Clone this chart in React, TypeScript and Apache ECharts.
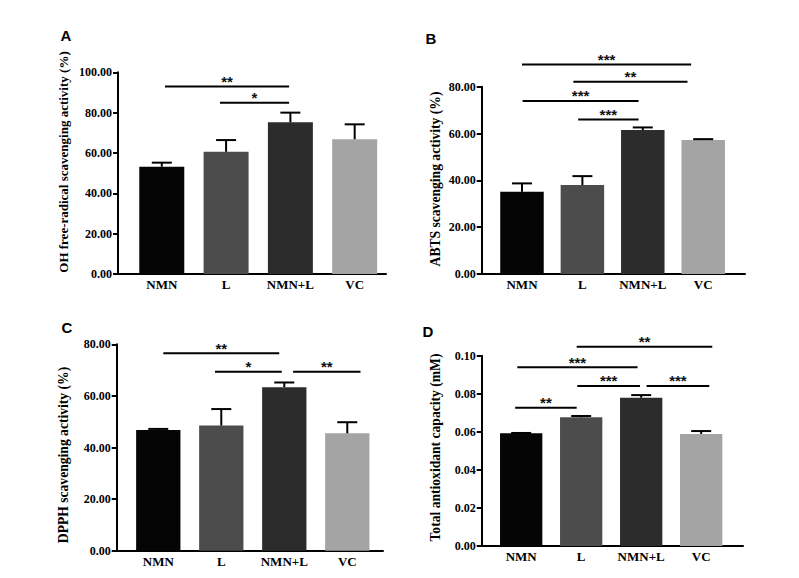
import React, { useEffect, useRef } from "react";
import * as echarts from "echarts";

const categories = ["NMN", "L", "NMN+L", "VC"];
const barColors = ["#050505", "#4c4c4c", "#2c2c2c", "#a4a4a4"];

// Panel A: OH free-radical scavenging activity (%)
const ohMean = [53.2, 60.6, 75.2, 66.8];
const ohErr = [2.0, 5.8, 4.8, 7.4];
// Panel B: ABTS scavenging activity (%)
const abtsMean = [35.1, 38.0, 61.5, 57.2];
const abtsErr = [3.6, 3.8, 1.1, 0.4];
// Panel C: DPPH scavenging activity (%)
const dpphMean = [46.8, 48.5, 63.4, 45.5];
const dpphErr = [0.4, 6.4, 1.8, 4.3];
// Panel D: Total antioxidant capacity (mM)
const taocMean = [0.0592, 0.0676, 0.0779, 0.0589];
const taocErr = [0.0002, 0.0007, 0.0014, 0.0015];

// significance brackets: [from (category pos), to (category pos), height, label]
const sigA: [number, number, number, string][] = [
  [0.05, 1.98, 92.9, "**"],
  [0.905, 1.98, 84.9, "*"],
];
const sigB: [number, number, number, string][] = [
  [0.0, 2.8, 89.5, "***"],
  [0.85, 2.74, 82.1, "**"],
  [0.01, 1.93, 73.9, "***"],
  [0.93, 1.93, 66.0, "***"],
];
const sigC: [number, number, number, string][] = [
  [0.08, 1.92, 76.5, "**"],
  [0.9, 1.96, 69.4, "*"],
  [2.14, 3.21, 69.4, "**"],
];
const sigD: [number, number, number, string][] = [
  [0.925, 3.185, 0.1047, "**"],
  [-0.065, 1.94, 0.0939, "***"],
  [0.935, 1.98, 0.0841, "***"],
  [2.09, 3.135, 0.0841, "***"],
  [-0.1, 0.925, 0.0727, "**"],
];

const yTitles = [
  "OH free-radical scavenging activity (%)",
  "ABTS scavenging activity (%)",
  "DPPH scavenging activity (%)",
  "Total antioxidant capacity (mM)",
];
const panelLetters = ["A", "B", "C", "D"];
const yMaxes = [100, 80, 80, 0.1];
const yIntervals = [20, 20, 20, 0.02];

const SERIF = '"Liberation Serif", "Times New Roman", serif';
const SANS = '"Liberation Sans", Arial, sans-serif';

export default function App() {
  const ref = useRef<HTMLDivElement>(null);
  useEffect(() => {
    if (!ref.current) return;
    const chart = echarts.init(ref.current, null, { renderer: "svg" });

    const grids = [
      { left: 118, top: 72.3, width: 268, height: 201.7 },
      { left: 481.7, top: 86.7, width: 263.3, height: 187.3 },
      { left: 116.7, top: 344.3, width: 266.3, height: 206.4 },
      { left: 481.7, top: 355.7, width: 261.3, height: 190.3 },
    ];
    const xRanges = [
      [-0.681, 3.487],
      [-0.667, 3.692],
      [-0.66, 3.567],
      [-0.658, 3.697],
    ];
    const barWidths = [45, 43.5, 44.3, 42.3];
    const titlePos = [
      [63, 162],
      [435, 179],
      [63, 455],
      [435.5, 447.5],
    ];
    const titleSizes = [13, 13.6, 13.6, 13.6];
    const letterPos = [
      [66, 35.5],
      [431, 38],
      [67, 327],
      [428, 331],
    ];

    const means = [ohMean, abtsMean, dpphMean, taocMean];
    const errs = [ohErr, abtsErr, dpphErr, taocErr];
    const sigs = [sigA, sigB, sigC, sigD];

    const series: any[] = [];
    for (let p = 0; p < 4; p++) {
      const m = means[p];
      const e = errs[p];
      series.push({
        type: "bar",
        xAxisIndex: p,
        yAxisIndex: p,
        barWidth: barWidths[p],
        data: m.map((v, i) => ({ value: [i, v], itemStyle: { color: barColors[i] } })),
        z: 2,
      });
      series.push({
        type: "custom",
        xAxisIndex: p,
        yAxisIndex: p,
        clip: false,
        z: 3,
        encode: { x: 0, y: [1, 2] },
        data: m.map((v, i) => [i, v, v + e[i]]),
        renderItem: (params: any, api: any) => {
          const x = api.value(0);
          const base = api.coord([x, api.value(1)]);
          const top = api.coord([x, api.value(2)]);
          const st = { stroke: "#000", lineWidth: 2 };
          return {
            type: "group",
            children: [
              { type: "line", shape: { x1: base[0], y1: base[1], x2: top[0], y2: top[1] }, style: st },
              { type: "line", shape: { x1: top[0] - 10, y1: top[1], x2: top[0] + 10, y2: top[1] }, style: st },
            ],
          };
        },
      });
      const sg = sigs[p];
      series.push({
        type: "custom",
        xAxisIndex: p,
        yAxisIndex: p,
        clip: false,
        z: 4,
        encode: { x: [0, 1], y: 2 },
        data: sg.map((s) => [s[0], s[1], s[2]]),
        renderItem: (params: any, api: any) => {
          const a = api.coord([api.value(0), api.value(2)]);
          const b = api.coord([api.value(1), api.value(2)]);
          const label = sg[params.dataIndex][3];
          return {
            type: "group",
            children: [
              { type: "line", shape: { x1: a[0], y1: a[1], x2: b[0], y2: b[1] }, style: { stroke: "#000", lineWidth: 2 } },
              {
                type: "text",
                x: (a[0] + b[0]) / 2,
                y: a[1] - 5,
                style: {
                  text: label,
                  fill: "#111",
                  font: `bold 15px ${SANS}`,
                  align: "center",
                  verticalAlign: "middle",
                },
              },
            ],
          };
        },
      });
    }

    const graphic: any[] = [];
    for (let p = 0; p < 4; p++) {
      graphic.push({
        type: "text",
        x: titlePos[p][0],
        y: titlePos[p][1],
        rotation: Math.PI / 2,
        style: {
          text: yTitles[p],
          fill: "#000",
          font: `bold ${titleSizes[p]}px ${SERIF}`,
          align: "center",
          verticalAlign: "middle",
        },
      });
      graphic.push({
        type: "text",
        x: letterPos[p][0],
        y: letterPos[p][1],
        style: {
          text: panelLetters[p],
          fill: "#000",
          font: `bold 15px ${SANS}`,
          align: "center",
          verticalAlign: "middle",
        },
      });
    }

    const option: any = {
      animation: false,
      backgroundColor: "#fff",
      grid: grids.map((g) => ({ ...g, containLabel: false, outerBoundsMode: "none" })),
      xAxis: grids.map((g, p) => ({
        type: "value",
        gridIndex: p,
        min: xRanges[p][0],
        max: xRanges[p][1],
        splitLine: { show: false },
        axisLine: { show: true, onZero: false, lineStyle: { color: "#000", width: 2 } },
        axisTick: {
          show: true,
          inside: true,
          length: 4,
          customValues: [0, 1, 2, 3],
          lineStyle: { color: "#000", width: 1.5 },
        },
        axisLabel: {
          customValues: [0, 1, 2, 3],
          formatter: (v: number) => categories[Math.round(v)] ?? "",
          color: "#000",
          fontFamily: SERIF,
          fontWeight: "bold",
          fontSize: 13,
          margin: 4,
        },
      })),
      yAxis: grids.map((g, p) => ({
        type: "value",
        gridIndex: p,
        min: 0,
        max: yMaxes[p],
        interval: yIntervals[p],
        splitLine: { show: false },
        axisLine: { show: true, onZero: false, lineStyle: { color: "#000", width: 2 } },
        axisTick: { show: true, length: 5, lineStyle: { color: "#000", width: 2 } },
        axisLabel: {
          formatter: (v: number) => v.toFixed(2),
          color: "#000",
          fontFamily: SERIF,
          fontWeight: "bold",
          fontSize: 12,
          margin: 6,
        },
      })),
      series,
      graphic,
    };
    chart.setOption(option);
    return () => chart.dispose();
  }, []);
  return (
    <div
      ref={ref}
      style={{ position: "fixed", left: 0, top: 0, width: 799, height: 578, background: "#fff" }}
    />
  );
}
